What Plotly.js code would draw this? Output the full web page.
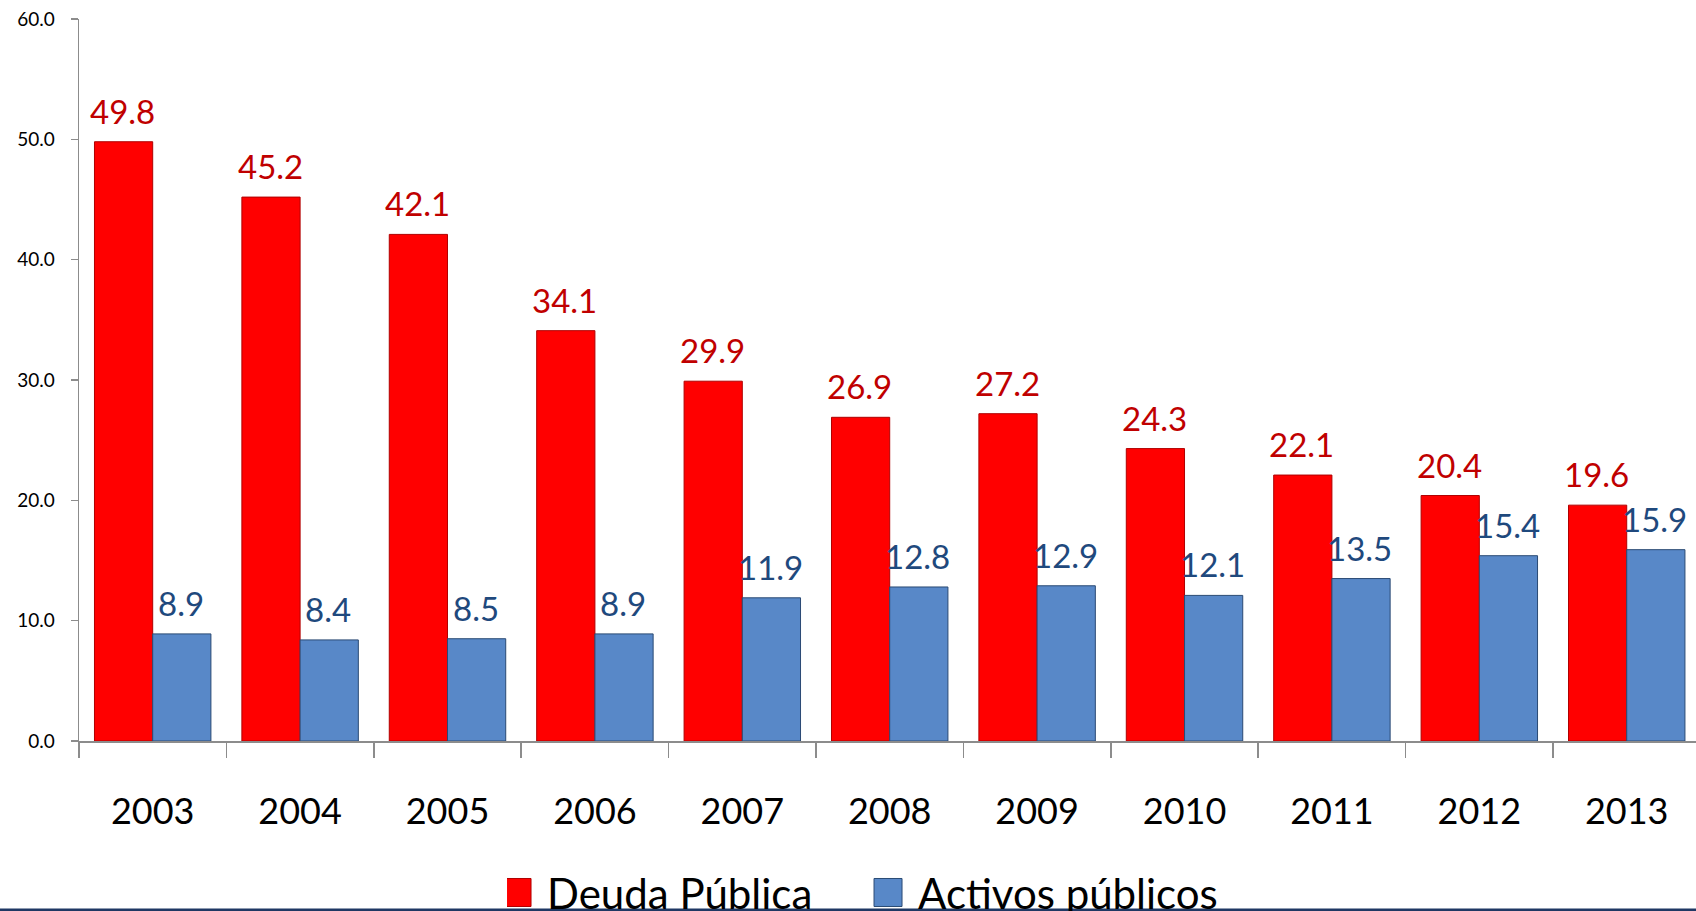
<!DOCTYPE html>
<html>
<head>
<meta charset="utf-8">
<script src="https://cdn.plot.ly/plotly-3.0.1.min.js"></script>
<style>
  html, body { margin: 0; padding: 0; background: #ffffff; }
  #chart { width: 1696px; height: 911px; }
</style>
</head>
<body>
<div id="chart"></div>
<script>
const years = ["2003", "2004", "2005", "2006", "2007", "2008", "2009", "2010", "2011", "2012", "2013"];
const deudaPublica = [49.8, 45.2, 42.1, 34.1, 29.9, 26.9, 27.2, 24.3, 22.1, 20.4, 19.6];
const activosPublicos = [8.9, 8.4, 8.5, 8.9, 11.9, 12.8, 12.9, 12.1, 13.5, 15.4, 15.9];
const seriesNames = ["Deuda Pública", "Activos públicos"];
const yTicks = [0, 10, 20, 30, 40, 50, 60];

const FONT = 'Lato, "Open Sans", "DejaVu Sans", sans-serif';
const RED = '#FF0000', RED_TXT = '#C00000';
const BLUE = '#5888C8', BLUE_TXT = '#1F497D';

const traces = [
  {
    type: 'bar', name: seriesNames[0], x: years, y: deudaPublica,
    marker: { color: RED, line: { color: '#B00000', width: 1 } },
    hoverinfo: 'x+y'
  },
  {
    type: 'bar', name: seriesNames[1], x: years, y: activosPublicos,
    marker: { color: BLUE, line: { color: '#2A4A74', width: 1 } },
    hoverinfo: 'x+y'
  }
];

const annotations = [];
years.forEach((yr, i) => {
  annotations.push({
    x: i, y: deudaPublica[i], xref: 'x', yref: 'y',
    text: deudaPublica[i].toFixed(1), showarrow: false,
    xshift: -30, yshift: 9, yanchor: 'bottom', xanchor: 'center',
    font: { family: FONT, size: 33, color: RED_TXT }
  });
  annotations.push({
    x: i, y: activosPublicos[i], xref: 'x', yref: 'y',
    text: activosPublicos[i].toFixed(1), showarrow: false,
    xshift: 28, yshift: 9, yanchor: 'bottom', xanchor: 'center',
    font: { family: FONT, size: 33, color: BLUE_TXT }
  });
});

const layout = {
  width: 1696, height: 911,
  margin: { l: 79, r: 0, t: 19, b: 170, autoexpand: false },
  paper_bgcolor: '#ffffff', plot_bgcolor: '#ffffff',
  font: { family: FONT, color: '#000000' },
  barmode: 'group', bargap: 0.21, bargroupgap: 0,
  showlegend: true,
  legend: {
    orientation: 'h', x: 0.2647, xanchor: 'left', y: -0.163, yanchor: 'top',
    font: { family: FONT, size: 42, color: '#000000' },
    entrywidth: 326, entrywidthmode: 'pixels',
    bgcolor: 'rgba(0,0,0,0)'
  },
  xaxis: {
    type: 'category', range: [-0.5, 10.47],
    showline: true, linecolor: '#8C8C8C', linewidth: 1.5,
    ticks: 'outside', tickson: 'boundaries', ticklen: 15, tickwidth: 1.5, tickcolor: '#8C8C8C',
    ticklabelstandoff: 38,
    tickfont: { family: FONT, size: 36, color: '#000000' },
    showgrid: false, zeroline: false, fixedrange: true
  },
  yaxis: {
    range: [0, 60], tickvals: yTicks, tickformat: '.1f',
    showline: true, linecolor: '#8C8C8C', linewidth: 1.5,
    ticks: 'outside', ticklen: 7, tickwidth: 1.5, tickcolor: '#8C8C8C',
    ticklabelstandoff: 12,
    tickfont: { family: FONT, size: 19, color: '#000000' },
    showgrid: false, zeroline: false, fixedrange: true
  },
  annotations: annotations,
  shapes: [
    {
      type: 'rect', xref: 'paper', yref: 'paper',
      x0: -79 / 1617, x1: 1, y0: (741 - 908.5) / 722, y1: (741 - 912) / 722,
      fillcolor: '#1F3864', line: { width: 0 }, layer: 'above'
    }
  ]
};

Plotly.newPlot('chart', traces, layout, { displayModeBar: false, staticPlot: true }).then(() => {
  document.querySelectorAll('#chart .legendpoints path').forEach(p => {
    p.setAttribute('d', 'M4,14H-24V-14H4Z');
  });
});
</script>
</body>
</html>
